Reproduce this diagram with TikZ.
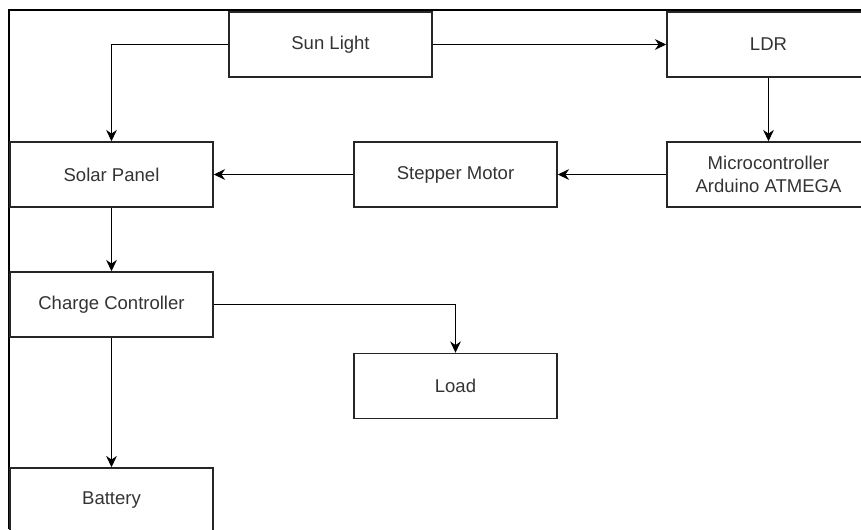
\documentclass[tikz,border=0pt]{standalone}
\usepackage{fontspec}
\setmainfont{Liberation Sans}
\usetikzlibrary{arrows.meta}
\definecolor{txtgray}{HTML}{333333}
\tikzset{
  blok/.style={draw=black!85, line width=1.1pt, minimum width=152.25pt, minimum height=48.75pt,
    inner sep=0pt, align=center, text=txtgray, font=\fontsize{13.9}{17}\selectfont},
  pijl/.style={->, line width=1.1pt}
}
\begin{document}
\begin{tikzpicture}[x=0.75pt,y=-0.75pt,>={Stealth[length=8.5pt,width=8pt]}]
	\useasboundingbox (0,0) rectangle (861,529);
	\clip (0,0) rectangle (861,529);
	
	% frame
	\draw[line width=1.7pt] (9,529) |- (861,10);
	
	\node[blok] (sun) at (330.5,44.5) {Sun Light};
	\node[blok] (ldr) at (768.5,44.5) {LDR};
	\node[blok] (panel) at (111.5,174.5) {Solar Panel};
	\node[blok] (stepper) at (455.5,174.5) {Stepper Motor};
	\node[blok] (mcu) at (768.5,174.5) {Microcontroller\\Arduino ATMEGA};
	\node[blok] (charge) at (111.5,304.5) {Charge Controller};
	\node[blok] (load) at (455.5,386) {Load};
	\node[blok] (battery) at (111.5,500.5) {Battery};
	
	\draw[pijl] (sun.west) -| (panel.north);
	\draw[pijl] (sun) -- (ldr);
	\draw[pijl] (ldr) -- (mcu);
	\draw[pijl] (mcu) -- (stepper);
	\draw[pijl] (stepper) -- (panel);
	\draw[pijl] (panel) -- (charge);
	\draw[pijl] (charge.east) -| (load.north);
	\draw[pijl] (charge) -- (battery);
	
\end{tikzpicture}
\end{document}
